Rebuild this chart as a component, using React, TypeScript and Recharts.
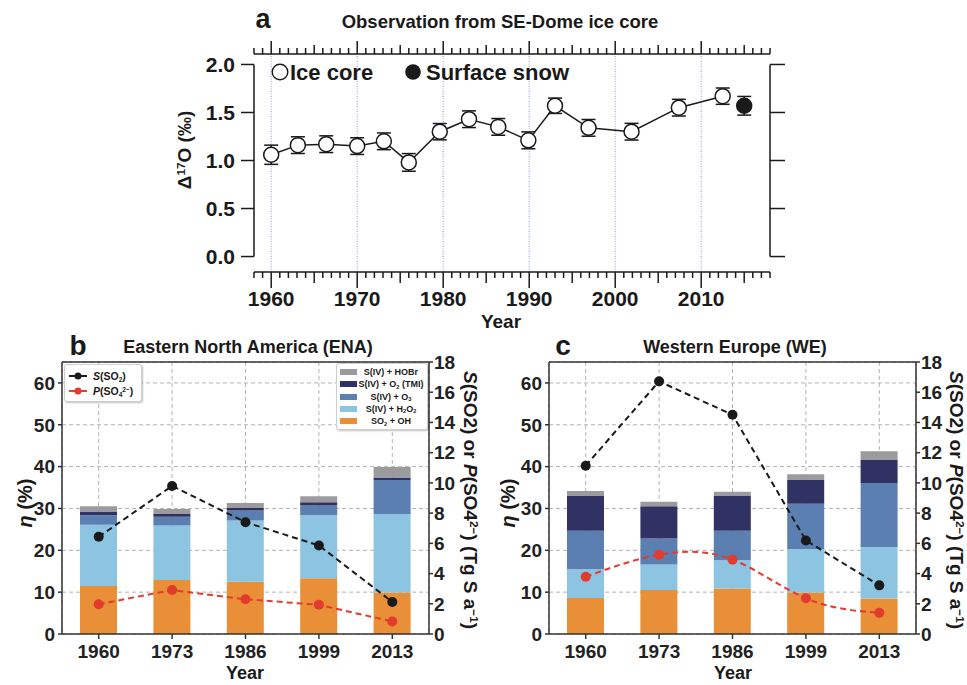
import React from "react";
import {
  ComposedChart,
  Line,
  Bar,
  Scatter,
  XAxis,
  YAxis,
  CartesianGrid,
  ReferenceLine,
  ErrorBar,
} from "recharts";

const FONT = '"Liberation Sans", Arial, Helvetica, sans-serif';
const INK = "#1a1a1a";

// ---- panel a: SE-Dome ice core ----
const ICE_YEARS = [1960.0, 1963.1, 1966.4, 1970.0, 1973.1, 1976.0, 1979.6, 1983.0, 1986.4, 1989.9, 1993.0, 1996.9, 2001.9, 2007.4, 2012.5];
const ICE_D17O = [1.06, 1.16, 1.17, 1.15, 1.2, 0.98, 1.3, 1.43, 1.35, 1.21, 1.57, 1.34, 1.3, 1.55, 1.67];
const ICE_ERR = [0.1, 0.087, 0.087, 0.087, 0.087, 0.092, 0.085, 0.087, 0.087, 0.088, 0.08, 0.087, 0.087, 0.087, 0.085];
const SNOW_YEAR = 2015.0;
const SNOW_D17O = 1.57;
const SNOW_ERR = 0.097;
const A_YTICKS = [0, 0.5, 1, 1.5, 2];
const A_DECADES = [1960, 1970, 1980, 1990, 2000, 2010];
const A_XDOMAIN: [number, number] = [1958, 2018];
const A_YDOMAIN: [number, number] = [-0.161, 2.109];
const A_MINOR = Array.from({ length: 61 }, (_, i) => 1958 + i);

// ---- panels b, c ----
const REGION_YEARS = ["1960", "1973", "1986", "1999", "2013"];

const ENA_OH = [11.5, 12.9, 12.5, 13.3, 9.9];
const ENA_H2O2 = [14.6, 13.0, 14.6, 15.1, 18.8];
const ENA_O3 = [2.3, 2.1, 2.4, 2.3, 8.1];
const ENA_TMI = [0.9, 0.7, 0.6, 0.8, 0.6];
const ENA_HOBR = [1.2, 1.2, 1.2, 1.4, 2.5];
const ENA_SSO2 = [6.43, 9.8, 7.4, 5.86, 2.12];
const ENA_PSO4 = [1.97, 2.91, 2.3, 1.93, 0.83];

const WE_OH = [8.6, 10.5, 10.9, 9.9, 8.5];
const WE_H2O2 = [6.9, 6.1, 6.7, 10.4, 12.3];
const WE_O3 = [9.2, 6.2, 7.1, 10.8, 15.3];
const WE_TMI = [8.3, 7.7, 8.4, 5.7, 5.6];
const WE_HOBR = [1.2, 1.1, 0.9, 1.4, 2.0];
const WE_SSO2 = [11.14, 16.72, 14.51, 6.19, 3.22];
const WE_PSO4 = [3.79, 5.25, 4.92, 2.36, 1.4];

const ETA_TICKS = [0, 10, 20, 30, 40, 50, 60];
const FLUX_TICKS = [0, 2, 4, 6, 8, 10, 12, 14, 16, 18];

const C_OH = "#e98f37";
const C_H2O2 = "#8cc4e1";
const C_O3 = "#5a7fb0";
const C_TMI = "#2f3262";
const C_HOBR = "#9b9b9e";
const C_RED = "#e43b2f";

const Sub = ({ c }: { c: string }) => (
  <span style={{ fontSize: "0.62em", position: "relative", top: "0.28em" }}>{c}</span>
);
const Sup = ({ c }: { c: string }) => (
  <span style={{ fontSize: "0.62em", position: "relative", top: "-0.5em" }}>{c}</span>
);

function Txt({ x, y, size, rotate = 0, anchor = "middle", children, style }: any) {
  const tx = anchor === "start" ? "0" : "-50%";
  return (
    <div
      style={{
        position: "absolute",
        left: x,
        top: y,
        transform: `translate(${tx},-50%) rotate(${rotate}deg)`,
        fontSize: size,
        fontWeight: 700,
        whiteSpace: "nowrap",
        lineHeight: 1,
        color: INK,
        fontFamily: FONT,
        pointerEvents: "none",
        ...style,
      }}
    >
      {children}
    </div>
  );
}

// IDL-style year ticks: long at decades, medium at 5 yr, short otherwise.
// dir = 1 draws down (bottom axis, with decade labels), -1 draws up (top axis).
function tickMark(dir: number, longLen: number, midLen: number) {
  return (p: any) => {
    const v = Math.round(p.payload.year);
    const len = v % 10 === 0 ? longLen : v % 5 === 0 ? midLen : 6;
    return (
      <g>
        <line x1={p.cx} x2={p.cx} y1={p.cy} y2={p.cy + dir * len} stroke={INK} strokeWidth={1.5} />
        {dir > 0 && v % 10 === 0 && (
          <text x={p.cx} y={p.cy + 34} textAnchor="middle" fontSize={21} fontWeight={700} fill={INK} fontFamily={FONT}>
            {v}
          </text>
        )}
      </g>
    );
  };
}

function OpenDot(props: any) {
  const { cx, cy, index } = props;
  if (cx == null || cy == null || Number.isNaN(cy)) return <g key={`o${index}`} />;
  return <circle key={`o${index}`} cx={cx} cy={cy} r={7.5} fill="#fff" stroke={INK} strokeWidth={1.5} />;
}

function FilledDot(props: any) {
  const { cx, cy, index } = props;
  if (cx == null || cy == null || Number.isNaN(cy)) return <g key={`f${index}`} />;
  return <circle key={`f${index}`} cx={cx} cy={cy} r={7.5} fill={INK} stroke={INK} strokeWidth={1.5} />;
}

function PanelA() {
  const data: any[] = ICE_YEARS.map((year, i) => ({ year, ice: ICE_D17O[i], iceErr: ICE_ERR[i] }));
  data.push({ year: SNOW_YEAR, snow: SNOW_D17O, snowErr: SNOW_ERR });
  const topMarks = A_MINOR.map((year) => ({ year, pos: A_YDOMAIN[1] }));
  const axisLine = { stroke: INK, strokeWidth: 1.5 };
  return (
    <div style={{ position: "absolute", left: 0, top: 0, zIndex: 5 }}>
      <ComposedChart width={967} height={330} data={data} margin={{ top: 54, right: 180, bottom: 58, left: 0 }}>
        <XAxis type="number" dataKey="year" domain={A_XDOMAIN} hide />
        <YAxis
          yAxisId="left"
          domain={A_YDOMAIN}
          ticks={A_YTICKS}
          interval={0}
          width={254}
          axisLine={false}
          tickSize={13}
          tickMargin={6}
          tickLine={axisLine}
          tickFormatter={(v: number) => v.toFixed(1)}
          tick={{ fontSize: 21, fontWeight: 700, fill: INK, fontFamily: FONT }}
        />
        <YAxis
          yAxisId="right"
          orientation="right"
          domain={A_YDOMAIN}
          ticks={A_YTICKS}
          interval={0}
          width={17}
          axisLine={false}
          tickSize={15}
          tickLine={axisLine}
          tickFormatter={() => ""}
        />
        {A_DECADES.map((d) => (
          <ReferenceLine key={d} x={d} yAxisId="left" stroke="#8d9bd0" strokeWidth={1} strokeDasharray="1 1.5" />
        ))}
        <ReferenceLine yAxisId="left" y={A_YDOMAIN[1]} stroke={INK} strokeWidth={1.5} ifOverflow="visible" />
        <ReferenceLine
          yAxisId="left"
          segment={[{ x: 1958, y: 0 }, { x: 1958, y: 2 }]}
          stroke={INK}
          strokeWidth={1.5}
          ifOverflow="visible"
        />
        <ReferenceLine
          yAxisId="left"
          segment={[{ x: 2018, y: 0 }, { x: 2018, y: 2 }]}
          stroke={INK}
          strokeWidth={1.5}
          ifOverflow="visible"
        />
        <Scatter yAxisId="right" data={topMarks} dataKey="pos" shape={tickMark(-1, 13, 9)} isAnimationActive={false} />
        <Line
          yAxisId="left"
          dataKey="ice"
          stroke={INK}
          strokeWidth={1.5}
          dot={OpenDot}
          activeDot={false}
          isAnimationActive={false}
        >
          <ErrorBar dataKey="iceErr" width={7} stroke={INK} strokeWidth={1.5} />
        </Line>
        <Line
          yAxisId="left"
          dataKey="snow"
          stroke="none"
          dot={FilledDot}
          activeDot={false}
          isAnimationActive={false}
        >
          <ErrorBar dataKey="snowErr" width={7} stroke={INK} strokeWidth={1.5} />
        </Line>
      </ComposedChart>
    </div>
  );
}

// bottom year axis of panel a, drawn as its own strip sharing the same x range
function PanelABottomAxis() {
  const marks = A_MINOR.map((year) => ({ year, pos: 1 }));
  return (
    <div style={{ position: "absolute", left: 0, top: 270, zIndex: 7 }}>
      <ComposedChart width={967} height={58} data={marks} margin={{ top: 2, right: 197, bottom: 0, left: 254 }}>
        <XAxis type="number" dataKey="year" domain={A_XDOMAIN} hide />
        <YAxis domain={[0, 1]} hide />
        <ReferenceLine y={1} stroke={INK} strokeWidth={1.5} ifOverflow="visible" />
        <Scatter dataKey="pos" shape={tickMark(1, 16, 11)} isAnimationActive={false} />
      </ComposedChart>
    </div>
  );
}

function RegionPanel({ left, oh, h2o2, o3, tmi, hobr, sso2, pso4, redType }: any) {
  const data = REGION_YEARS.map((year, i) => ({
    year,
    oh: oh[i],
    h2o2: h2o2[i],
    o3: o3[i],
    tmi: tmi[i],
    hobr: hobr[i],
    sso2: sso2[i],
    pso4: pso4[i],
  }));
  const tickStyle = { fontSize: 19, fontWeight: 700, fill: "#222", fontFamily: FONT };
  const axisStyle = { stroke: "#333", strokeWidth: 1.5 };
  return (
    <div style={{ position: "absolute", left, top: 330 }}>
      <ComposedChart width={490} height={355} data={data} margin={{ top: 32, right: 0, bottom: 0, left: 0 }}>
        <CartesianGrid yAxisId="L" stroke="#b3b3b3" strokeDasharray="4 3" />
        <XAxis dataKey="year" height={51} tickSize={5} tickMargin={6} tick={tickStyle} axisLine={axisStyle} tickLine={axisStyle} />
        <YAxis
          yAxisId="L"
          domain={[0, 65]}
          ticks={ETA_TICKS}
          interval={0}
          width={62}
          tickSize={4}
          tickMargin={3}
          tick={tickStyle}
          axisLine={axisStyle}
          tickLine={axisStyle}
        />
        <YAxis
          yAxisId="R"
          orientation="right"
          domain={[0, 18]}
          ticks={FLUX_TICKS}
          interval={0}
          width={61}
          tickSize={4}
          tickMargin={1}
          tick={tickStyle}
          axisLine={axisStyle}
          tickLine={axisStyle}
        />
        <ReferenceLine yAxisId="L" y={65} stroke="#333" strokeWidth={1.5} />
        <Bar yAxisId="L" dataKey="oh" stackId="s" fill={C_OH} barSize={37} isAnimationActive={false} />
        <Bar yAxisId="L" dataKey="h2o2" stackId="s" fill={C_H2O2} barSize={37} isAnimationActive={false} />
        <Bar yAxisId="L" dataKey="o3" stackId="s" fill={C_O3} barSize={37} isAnimationActive={false} />
        <Bar yAxisId="L" dataKey="tmi" stackId="s" fill={C_TMI} barSize={37} isAnimationActive={false} />
        <Bar yAxisId="L" dataKey="hobr" stackId="s" fill={C_HOBR} barSize={37} isAnimationActive={false} />
        <Line
          yAxisId="R"
          dataKey="sso2"
          stroke={INK}
          strokeWidth={2}
          strokeDasharray="6 4"
          dot={{ r: 5, fill: INK, stroke: "none" }}
          activeDot={false}
          isAnimationActive={false}
        />
        <Line
          yAxisId="R"
          type={redType}
          dataKey="pso4"
          stroke={C_RED}
          strokeWidth={2}
          strokeDasharray="6 4"
          dot={{ r: 5, fill: C_RED, stroke: "none" }}
          activeDot={false}
          isAnimationActive={false}
        />
      </ComposedChart>
    </div>
  );
}

function LineLegend() {
  const row = (color: string, label: React.ReactNode, top: number) => (
    <div style={{ position: "absolute", left: 3, top, display: "flex", alignItems: "center", height: 12 }}>
      <svg width={20} height={12}>
        <line x1={1} x2={19} y1={6} y2={6} stroke={color} strokeWidth={2} />
        <circle cx={10} cy={6} r={3.5} fill={color} />
      </svg>
      <span style={{ marginLeft: 5, fontSize: 10.5, fontWeight: 700, color: INK }}>{label}</span>
    </div>
  );
  return (
    <div
      style={{
        position: "absolute",
        left: 64,
        top: 364,
        width: 76,
        height: 36,
        background: "#fff",
        border: "1px solid #cfcfcf",
        borderRadius: 3,
        boxShadow: "1px 1px 2px rgba(0,0,0,0.25)",
        fontFamily: FONT,
      }}
    >
      {row(INK, <><i>S</i>(SO<Sub c="2" />)</>, 5)}
      {row(C_RED, <><i>P</i>(SO<Sub c="4" /><Sup c="2−" />)</>, 20)}
    </div>
  );
}

function BarLegend() {
  const items: [string, React.ReactNode][] = [
    [C_HOBR, <>S(IV) + HOBr</>],
    [C_TMI, <>S(IV) + O<Sub c="2" /> (TMI)</>],
    [C_O3, <>S(IV) + O<Sub c="3" /></>],
    [C_H2O2, <>S(IV) + H<Sub c="2" />O<Sub c="2" /></>],
    [C_OH, <>SO<Sub c="2" /> + OH</>],
  ];
  return (
    <div
      style={{
        position: "absolute",
        left: 336,
        top: 363,
        width: 90,
        height: 65,
        background: "#fff",
        border: "1px solid #cfcfcf",
        borderRadius: 3,
        boxShadow: "1px 1px 2px rgba(0,0,0,0.25)",
        fontFamily: FONT,
      }}
    >
      {items.map(([c, label], i) => (
        <div key={i} style={{ position: "absolute", left: 0, top: 3 + i * 12.3, width: 90, height: 10 }}>
          <div style={{ position: "absolute", left: 3, top: 2, width: 17, height: 6, background: c }} />
          <div
            style={{
              position: "absolute",
              left: 54,
              top: 5,
              transform: "translate(-50%,-50%)",
              fontSize: 9,
              fontWeight: 700,
              whiteSpace: "nowrap",
              color: INK,
              lineHeight: 1,
            }}
          >
            {label}
          </div>
        </div>
      ))}
    </div>
  );
}

const FluxLabel = () => (
  <>
    <i>S</i>(SO2) or <i>P</i>(SO4<Sup c="2−" />) (Tg S a<Sup c="−1" />)
  </>
);

export default function App() {
  return (
    <div
      style={{
        position: "absolute",
        left: 0,
        top: 0,
        width: 967,
        height: 685,
        background: "#fff",
        fontFamily: FONT,
        overflow: "hidden",
      }}
    >
      <RegionPanel
        left={0}
        oh={ENA_OH}
        h2o2={ENA_H2O2}
        o3={ENA_O3}
        tmi={ENA_TMI}
        hobr={ENA_HOBR}
        sso2={ENA_SSO2}
        pso4={ENA_PSO4}
        redType="linear"
      />
      <RegionPanel
        left={487}
        oh={WE_OH}
        h2o2={WE_H2O2}
        o3={WE_O3}
        tmi={WE_TMI}
        hobr={WE_HOBR}
        sso2={WE_SSO2}
        pso4={WE_PSO4}
        redType="natural"
      />
      <LineLegend />
      <BarLegend />

      <Txt x={78} y={346} size={28}>b</Txt>
      <Txt x={248} y={347} size={18}>Eastern North America (ENA)</Txt>
      <Txt x={25} y={503} size={20} rotate={-90}><i>η</i> (%)</Txt>
      <Txt x={470} y={500} size={19} rotate={90}><FluxLabel /></Txt>
      <Txt x={245} y={673} size={18}>Year</Txt>

      <Txt x={563} y={346} size={28}>c</Txt>
      <Txt x={735} y={347} size={18}>Western Europe (WE)</Txt>
      <Txt x={508} y={503} size={20} rotate={-90}><i>η</i> (%)</Txt>
      <Txt x={956} y={500} size={19} rotate={90}><FluxLabel /></Txt>
      <Txt x={733} y={673} size={18}>Year</Txt>

      <PanelA />
      <PanelABottomAxis />
      <Txt x={263} y={19} size={27}>a</Txt>
      <Txt x={500} y={22} size={18.5}>Observation from SE-Dome ice core</Txt>
      <Txt x={184} y={150} size={19} rotate={-90}>
        Δ<Sup c="17" />O (‰)
      </Txt>
      <Txt x={501} y={321} size={19} style={{ zIndex: 8 }}>Year</Txt>
      <svg style={{ position: "absolute", left: 271, top: 63, zIndex: 8 }} width={18} height={18}>
        <circle cx={9} cy={9} r={7.8} fill="#fff" stroke={INK} strokeWidth={1.4} />
      </svg>
      <Txt x={290} y={73} size={22} anchor="start" style={{ zIndex: 8 }}>Ice core</Txt>
      <svg style={{ position: "absolute", left: 404, top: 63, zIndex: 8 }} width={18} height={18}>
        <circle cx={9} cy={9} r={7.8} fill={INK} />
      </svg>
      <Txt x={426} y={73} size={22} anchor="start" style={{ zIndex: 8 }}>Surface snow</Txt>
    </div>
  );
}
